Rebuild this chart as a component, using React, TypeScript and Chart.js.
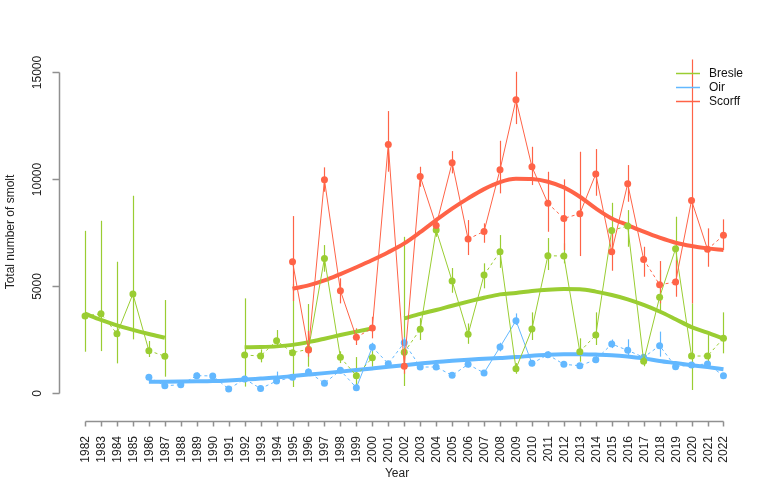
import React, { useEffect, useRef } from "react";
import { Chart, registerables } from "chart.js";
Chart.register(...registerables);

const years = [1982, 1983, 1984, 1985, 1986, 1987, 1988, 1989, 1990, 1991, 1992, 1993, 1994, 1995, 1996, 1997, 1998, 1999, 2000, 2001, 2002, 2003, 2004, 2005, 2006, 2007, 2008, 2009, 2010, 2011, 2012, 2013, 2014, 2015, 2016, 2017, 2018, 2019, 2020, 2021, 2022];

const yTicks = [0, 5000, 10000, 15000];

const bresle = [3600, 3706, 2772, 4626, 1977, 1720, null, null, null, null, 1776, 1729, 2445, 1884, 2050, 6293, 1667, 810, 1650, null, 1900, 2975, 7617, 5234, 2741, 5514, 6604, 1137, 2990, 6417, 6402, 1930, 2710, 7601, 7804, 1490, 4480, 6745, 1729, 1729, 2560];
const bresleLow = [1930, 1960, 1386, 2508, 1682, 763, null, null, null, null, 300, 1434, 2196, 280, 1230, 5670, 1400, 300, 1230, null, 327, 2477, 7300, 4687, 2300, 4893, 5850, 900, 2477, 5748, 6060, 1463, 2243, 6680, 6836, 1250, 3879, 5435, 140, 1230, 1855];
const bresleHigh = [7580, 8050, 6136, 9220, 2430, 4346, null, null, null, null, 4424, 2040, 2944, 5100, 4159, 6915, 1950, 1680, 2165, null, 7300, 3500, 7950, 5841, 3250, 6061, 7383, 1400, 3770, 7243, 6995, 2555, 3770, 8890, 8550, 1750, 5748, 8240, 4190, 2710, 3770];
const bresleTrend = [3706, 3420, 3160, 2950, 2760, 2585, null, null, null, null, 2140, 2150, 2180, 2250, 2380, 2540, 2710, 2870, 3020, null, 3490, 3700, 3880, 4080, 4270, 4450, 4610, 4680, 4770, 4830, 4860, 4850, 4740, 4580, 4380, 4120, 3810, 3450, 3080, 2820, 2540];

const oir = [null, null, null, null, 733, 341, 388, 810, 800, 187, 654, 210, 560, 733, 981, 460, 1059, 249, 2150, 1370, 2352, 1215, 1215, 826, 1340, 940, 2150, 3380, 1386, 1791, 1340, 1277, 1558, 2290, 1994, 1667, 2212, 1230, 1308, 1355, 810];
const oirLow = [null, null, null, null, 600, 250, 300, 700, 700, 120, 540, 150, 430, 620, 850, 380, 930, 180, 1950, 1250, 2100, 1100, 1100, 720, 1200, 830, 1950, 3180, 1250, 1650, 1220, 1150, 1400, 2100, 1700, 1520, 1700, 1100, 1180, 1220, 700];
const oirHigh = [null, null, null, null, 870, 430, 470, 960, 900, 260, 780, 280, 1000, 850, 1150, 560, 1200, 330, 2350, 1500, 2600, 1330, 1330, 930, 1480, 1050, 2350, 3720, 1520, 1950, 1460, 1400, 1750, 2500, 2510, 1820, 2870, 1360, 1440, 1490, 920];
const oirTrend = [null, null, null, null, 530, 530, 535, 545, 560, 590, 630, 675, 720, 790, 860, 930, 1000, 1075, 1150, 1225, 1300, 1375, 1450, 1510, 1560, 1600, 1640, 1680, 1740, 1790, 1810, 1810, 1795, 1770, 1710, 1620, 1500, 1400, 1300, 1210, 1115];

const scorff = [null, null, null, null, null, null, null, null, null, null, null, null, null, 6136, 2009, 9968, 4782, 2601, 3037, 11620, 1250, 10125, 7835, 10762, 7196, 7555, 10436, 13707, 10576, 8864, 8162, 8380, 10234, 6604, 9780, 6246, 5062, 5187, 9004, 6714, 7369];
const scorffLow = [null, null, null, null, null, null, null, null, null, null, null, null, null, 4300, 1700, 9408, 4190, 2243, 2556, 10343, 900, 9640, 7550, 10266, 6449, 7023, 9332, 12570, 9720, 7537, 6682, 6402, 9220, 5715, 8939, 5435, 4192, 4500, 4190, 5902, 6682];
const scorffHigh = [null, null, null, null, null, null, null, null, null, null, null, null, null, 8270, 2900, 10547, 5360, 3023, 3565, 13178, 1700, 10576, 8150, 11308, 8084, 7930, 11790, 15015, 11509, 10341, 9986, 11276, 11402, 7617, 10654, 6836, 6168, 6200, 15590, 7696, 8117];
const scorffTrend = [null, null, null, null, null, null, null, null, null, null, null, null, null, 4874, 5030, 5260, 5560, 5880, 6215, 6580, 6994, 7520, 8084, 8620, 9097, 9530, 9860, 10014, 10000, 9875, 9610, 9175, 8630, 8160, 7850, 7540, 7260, 7025, 6870, 6760, 6680];

const seriesNames = ["Bresle", "Oir", "Scorff"];
const GREEN = "#9ACD32";
const BLUE = "#63B8FF";
const RED = "#FF6347";
const AXIS = "#909090";
const FONT = "12px 'Liberation Sans', Arial, sans-serif";

const pts = (vals: (number | null)[]) => years.map((yr, i) => ({ x: yr, y: vals[i] }));

export default function App() {
  const ref = useRef<HTMLCanvasElement | null>(null);
  useEffect(() => {
    if (!ref.current) return;
    const bars = [
      { low: bresleLow, high: bresleHigh, color: GREEN },
      { low: oirLow, high: oirHigh, color: BLUE },
      { low: scorffLow, high: scorffHigh, color: RED },
    ];
    const custom = {
      id: "custom",
      beforeDatasetsDraw(chart: any) {
        const { ctx, scales } = chart;
        const x = scales.x, y = scales.y;
        ctx.save();
        ctx.setLineDash([]);
        ctx.lineWidth = 1.2;
        bars.forEach((b) => {
          ctx.strokeStyle = b.color;
          years.forEach((yr, i) => {
            const lo = b.low[i], hi = b.high[i];
            if (lo == null || hi == null) return;
            const px = Math.round(x.getPixelForValue(yr)) + 0.5;
            ctx.beginPath();
            ctx.moveTo(px, y.getPixelForValue(lo));
            ctx.lineTo(px, y.getPixelForValue(hi));
            ctx.stroke();
          });
        });
        ctx.restore();
      },
      afterDraw(chart: any) {
        const { ctx, scales, chartArea } = chart;
        const x = scales.x, y = scales.y;
        ctx.save();
        ctx.setLineDash([]);
        ctx.globalAlpha = 1;
        ctx.strokeStyle = AXIS;
        ctx.lineWidth = 1.5;
        ctx.lineCap = "butt";
        // x axis line + ticks
        const yb = Math.round(chartArea.bottom) + 0.5;
        const x0 = Math.round(x.getPixelForValue(years[0])) + 0.5;
        const x1 = Math.round(x.getPixelForValue(years[years.length - 1])) + 0.5;
        ctx.beginPath();
        ctx.moveTo(x0, yb);
        ctx.lineTo(x1, yb);
        years.forEach((yr) => {
          const px = Math.round(x.getPixelForValue(yr)) + 0.5;
          ctx.moveTo(px, yb);
          ctx.lineTo(px, yb + 5);
        });
        ctx.stroke();
        // y axis line + ticks
        const xl = 59.5;
        const yTop = Math.round(y.getPixelForValue(yTicks[yTicks.length - 1])) + 0.5;
        const yBot = Math.round(y.getPixelForValue(yTicks[0])) + 0.5;
        ctx.beginPath();
        ctx.moveTo(xl, yTop);
        ctx.lineTo(xl, yBot);
        yTicks.forEach((t) => {
          const py = Math.round(y.getPixelForValue(t)) + 0.5;
          ctx.moveTo(xl, py);
          ctx.lineTo(xl - 7, py);
        });
        ctx.stroke();
        // tick labels
        ctx.font = FONT;
        ctx.fillStyle = "#222";
        years.forEach((yr) => {
          const px = Math.round(x.getPixelForValue(yr)) + 0.5;
          ctx.save();
          ctx.translate(px, 436);
          ctx.rotate(-Math.PI / 2);
          ctx.textAlign = "right";
          ctx.textBaseline = "middle";
          ctx.fillText(String(yr), 0, 0);
          ctx.restore();
        });
        yTicks.forEach((t) => {
          const py = Math.round(y.getPixelForValue(t)) + 0.5;
          ctx.save();
          ctx.translate(38, py);
          ctx.rotate(-Math.PI / 2);
          ctx.textAlign = "center";
          ctx.textBaseline = "middle";
          ctx.fillText(String(t), 0, 0);
          ctx.restore();
        });
        // titles
        ctx.save();
        ctx.translate(13.5, 232);
        ctx.rotate(-Math.PI / 2);
        ctx.textAlign = "center";
        ctx.textBaseline = "alphabetic";
        ctx.fillText("Total number of smolt", 0, 0);
        ctx.restore();
        ctx.textAlign = "center";
        ctx.textBaseline = "alphabetic";
        ctx.fillText("Year", 397, 476.5);
        // legend
        const colors = [GREEN, BLUE, RED];
        const rows = [73.5, 87.5, 101.5];
        ctx.lineWidth = 1.5;
        seriesNames.forEach((n, i) => {
          ctx.strokeStyle = colors[i];
          ctx.beginPath();
          ctx.moveTo(676, rows[i]);
          ctx.lineTo(700, rows[i]);
          ctx.stroke();
          ctx.fillStyle = "#111";
          ctx.textAlign = "left";
          ctx.textBaseline = "middle";
          ctx.fillText(n, 709, rows[i]);
        });
        ctx.restore();
      },
    };

    const seg = {
      borderDash: (c: any) => {
        const dx = c.p1.x - c.p0.x, dy = c.p1.y - c.p0.y;
        return Math.hypot(dx, dy) < 30 ? [3, 3] : [];
      },
    };
    const pointDs = (label: string, vals: (number | null)[], color: string) => ({
      label,
      data: pts(vals),
      borderColor: color,
      backgroundColor: color,
      borderWidth: 1,
      pointRadius: 3.5,
      pointBorderWidth: 0,
      pointBackgroundColor: color,
      spanGaps: false,
      segment: seg,
    });
    const trendDs = (label: string, vals: (number | null)[], color: string) => ({
      label,
      data: pts(vals),
      borderColor: color,
      backgroundColor: color,
      borderWidth: 4,
      pointRadius: 0,
      cubicInterpolationMode: "monotone" as const,
      spanGaps: false,
    });

    const chart = new Chart(ref.current, {
      type: "line",
      data: {
        datasets: [
          pointDs("Scorff", scorff, RED),
          pointDs("Bresle", bresle, GREEN),
          pointDs("Oir", oir, BLUE),
          trendDs("Scorff trend", scorffTrend, RED),
          trendDs("Bresle trend", bresleTrend, GREEN),
          trendDs("Oir trend", oirTrend, BLUE),
        ] as any,
      },
      options: {
        animation: false,
        responsive: false,
        layout: { padding: { left: 59.5, right: 31, top: 40, bottom: 59 } },
        plugins: { legend: { display: false }, tooltip: { enabled: false } },
        scales: {
          x: { type: "linear", min: 1980.4, max: 2023.6, display: false },
          y: { type: "linear", min: -1308, max: 16500, display: false },
        },
      },
      plugins: [custom],
    });
    return () => chart.destroy();
  }, []);
  return (
    <div style={{ position: "absolute", left: 0, top: 0, width: 780, height: 480, background: "#fff" }}>
      <canvas ref={ref} width={780} height={480} style={{ width: 780, height: 480 }} />
    </div>
  );
}
